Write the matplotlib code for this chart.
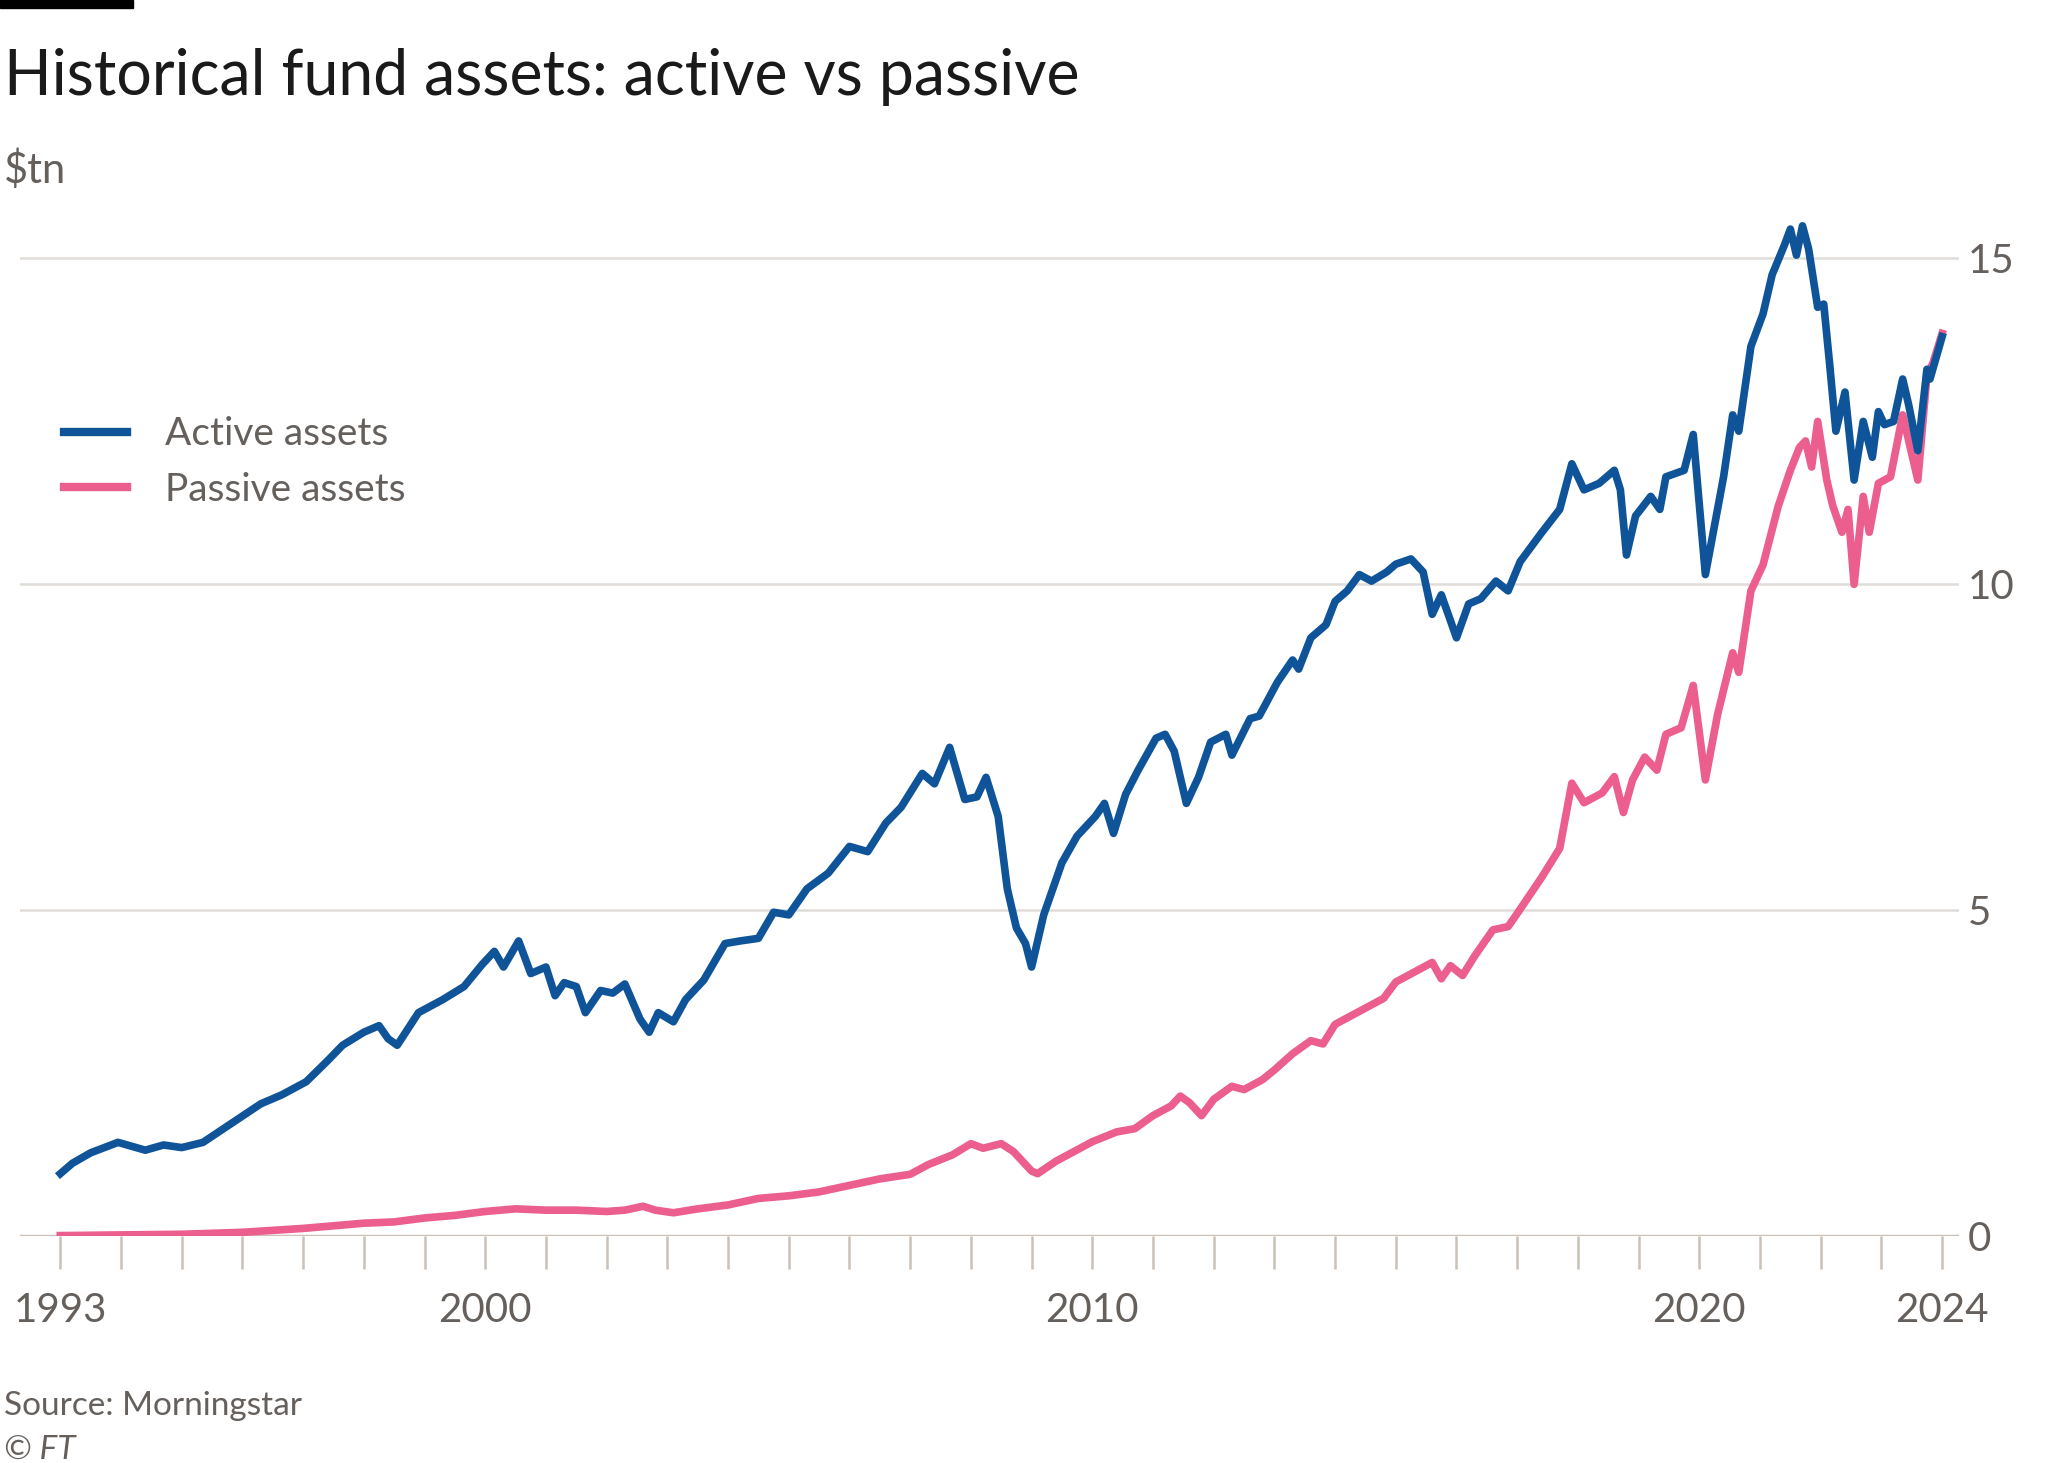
import matplotlib.pyplot as plt
from matplotlib.lines import Line2D

# Active assets ($tn)
active_years = [1993.0, 1993.2, 1993.5, 1993.95, 1994.4, 1994.7, 1995.0, 1995.35, 1995.8, 1996.3,
                1996.65, 1997.05, 1997.4, 1997.65, 1998.0, 1998.25, 1998.4, 1998.55, 1998.9, 1999.3,
                1999.65, 1999.95, 2000.15, 2000.3, 2000.55, 2000.75, 2001.0, 2001.15, 2001.3, 2001.5,
                2001.65, 2001.9, 2002.1, 2002.3, 2002.55, 2002.7, 2002.85, 2003.1, 2003.3, 2003.6,
                2003.95, 2004.2, 2004.5, 2004.75, 2005.0, 2005.3, 2005.65, 2006.0, 2006.3, 2006.6,
                2006.85, 2007.2, 2007.4, 2007.65, 2007.9, 2008.1, 2008.25, 2008.45, 2008.6, 2008.75,
                2008.9, 2009.0, 2009.2, 2009.5, 2009.75, 2010.05, 2010.2, 2010.35, 2010.55, 2010.75,
                2011.05, 2011.2, 2011.35, 2011.55, 2011.75, 2011.95, 2012.2, 2012.3, 2012.6, 2012.75,
                2013.05, 2013.3, 2013.4, 2013.6, 2013.85, 2014.0, 2014.2, 2014.4, 2014.6, 2014.85,
                2015.0, 2015.25, 2015.45, 2015.6, 2015.75, 2016.0, 2016.2, 2016.4, 2016.65, 2016.85,
                2017.05, 2017.4, 2017.7, 2017.9, 2018.1, 2018.35, 2018.6, 2018.7, 2018.8, 2018.95,
                2019.2, 2019.35, 2019.45, 2019.75, 2019.9, 2020.1, 2020.4, 2020.55, 2020.65, 2020.85,
                2021.05, 2021.2, 2021.4, 2021.5, 2021.6, 2021.7, 2021.8, 2021.95, 2022.05, 2022.15,
                2022.25, 2022.4, 2022.55, 2022.7, 2022.85, 2022.95, 2023.05, 2023.2, 2023.35, 2023.45,
                2023.6, 2023.75, 2023.8, 2024.0]
active_vals = [0.96, 1.12, 1.28, 1.44, 1.32, 1.40, 1.36, 1.44, 1.72, 2.03,
               2.17, 2.37, 2.69, 2.93, 3.13, 3.23, 3.03, 2.93, 3.43, 3.63,
               3.83, 4.17, 4.37, 4.13, 4.53, 4.03, 4.13, 3.69, 3.89, 3.83,
               3.43, 3.77, 3.73, 3.87, 3.33, 3.13, 3.43, 3.29, 3.63, 3.93,
               4.49, 4.53, 4.57, 4.97, 4.93, 5.33, 5.57, 5.98, 5.90, 6.34,
               6.58, 7.10, 6.94, 7.50, 6.70, 6.74, 7.04, 6.44, 5.33, 4.73,
               4.49, 4.13, 4.93, 5.73, 6.14, 6.44, 6.64, 6.18, 6.78, 7.14,
               7.64, 7.70, 7.44, 6.64, 7.04, 7.58, 7.70, 7.38, 7.94, 7.98,
               8.50, 8.84, 8.70, 9.18, 9.38, 9.74, 9.90, 10.15, 10.05, 10.19,
               10.31, 10.39, 10.19, 9.54, 9.84, 9.18, 9.70, 9.78, 10.05, 9.90,
               10.35, 10.79, 11.15, 11.85, 11.45, 11.55, 11.75, 11.45, 10.45, 11.05,
               11.35, 11.15, 11.65, 11.75, 12.3, 10.15, 11.65, 12.6, 12.35, 13.65,
               14.15, 14.75, 15.2, 15.45, 15.05, 15.5, 15.15, 14.25, 14.3, 13.35,
               12.35, 12.95, 11.6, 12.5, 11.95, 12.65, 12.45, 12.5, 13.15, 12.75,
               12.05, 13.3, 13.15, 13.8]

# Passive assets ($tn)
passive_years = [1993.0, 1994.0, 1995.0, 1996.0, 1997.0, 1998.0, 1998.5, 1999.0, 1999.5, 2000.0,
                 2000.5, 2001.0, 2001.5, 2002.0, 2002.3, 2002.6, 2002.8, 2003.1, 2003.5, 2004.0,
                 2004.5, 2005.0, 2005.5, 2006.0, 2006.5, 2007.0, 2007.3, 2007.7, 2008.0, 2008.2,
                 2008.5, 2008.7, 2008.9, 2009.0, 2009.1, 2009.4, 2009.7, 2010.0, 2010.4, 2010.7,
                 2011.0, 2011.3, 2011.45, 2011.6, 2011.8, 2012.0, 2012.3, 2012.5, 2012.8, 2013.0,
                 2013.3, 2013.6, 2013.8, 2014.0, 2014.4, 2014.8, 2015.0, 2015.3, 2015.6, 2015.75,
                 2015.9, 2016.1, 2016.3, 2016.6, 2016.85, 2017.0, 2017.4, 2017.7, 2017.9, 2018.1,
                 2018.4, 2018.6, 2018.75, 2018.9, 2019.1, 2019.3, 2019.45, 2019.7, 2019.9, 2020.1,
                 2020.3, 2020.55, 2020.65, 2020.85, 2021.05, 2021.3, 2021.5, 2021.65, 2021.75, 2021.85,
                 2021.95, 2022.1, 2022.2, 2022.35, 2022.45, 2022.55, 2022.7, 2022.8, 2022.95, 2023.15,
                 2023.35, 2023.5, 2023.6, 2023.75, 2023.85, 2024.0]
passive_vals = [0.01, 0.02, 0.03, 0.06, 0.12, 0.2, 0.22, 0.28, 0.32, 0.38,
                0.42, 0.40, 0.40, 0.38, 0.40, 0.46, 0.40, 0.36, 0.42, 0.48,
                0.58, 0.62, 0.68, 0.78, 0.88, 0.95, 1.1, 1.25, 1.42, 1.35,
                1.42, 1.3, 1.1, 1.0, 0.96, 1.15, 1.3, 1.45, 1.6, 1.65,
                1.85, 2.0, 2.15, 2.05, 1.85, 2.1, 2.3, 2.25, 2.4, 2.55,
                2.8, 3.0, 2.95, 3.25, 3.45, 3.65, 3.9, 4.05, 4.2, 3.95,
                4.15, 4.0, 4.3, 4.7, 4.75, 4.95, 5.5, 5.95, 6.95, 6.65,
                6.8, 7.05, 6.5, 7.0, 7.35, 7.15, 7.7, 7.8, 8.45, 7.0,
                8.0, 8.95, 8.65, 9.9, 10.3, 11.2, 11.75, 12.1, 12.2, 11.8,
                12.5, 11.6, 11.2, 10.8, 11.15, 10.0, 11.35, 10.8, 11.55, 11.65,
                12.6, 12.0, 11.6, 13.2, 13.4, 13.85]

y_ticks = [0, 5, 10, 15]
x_labels = [1993, 2000, 2010, 2020, 2024]

ACTIVE = '#0f5499'
PASSIVE = '#eb5e8d'
GREY = '#66605c'
plt.rcParams['font.family'] = 'Lato'

fig = plt.figure(figsize=(20.48, 14.63), dpi=100)
ax = fig.add_axes([0.0096, 0.155, 0.947, 0.704])

ax.plot(passive_years, passive_vals, color=PASSIVE, lw=5.5, solid_joinstyle='round')
ax.plot(active_years, active_vals, color=ACTIVE, lw=5.5, solid_joinstyle='round')

ax.set_xlim(1992.33, 2024.28)
ax.set_ylim(0, 15.8)
for s in ax.spines.values():
    s.set_visible(False)
ax.axhline(0, color='#ccc1b7', lw=2.5, zorder=1)
for v in y_ticks[1:]:
    ax.axhline(v, color='#e0dcd8', lw=1.8, zorder=0)

ax.yaxis.tick_right()
ax.set_yticks(y_ticks)
ax.tick_params(axis='y', length=0, labelsize=29, colors=GREY, pad=6)
ax.set_xticks(range(1993, 2025))
ax.set_xticklabels([str(y) if y in x_labels else '' for y in range(1993, 2025)])
ax.tick_params(axis='x', length=24, width=1.8, color='#ccc1b7', labelsize=29,
               labelcolor=GREY, pad=16)

handles = [Line2D([], [], color=ACTIVE, lw=6), Line2D([], [], color=PASSIVE, lw=6)]
ax.legend(handles, ['Active assets', 'Passive assets'], loc='upper left',
          bbox_to_anchor=(0.005, 0.83), frameon=False, fontsize=28, labelcolor=GREY,
          handlelength=1.6, handletextpad=1.0, labelspacing=0.5)

fig.patches.append(plt.Rectangle((0, 0.9945), 0.065, 0.0055, transform=fig.transFigure,
                                 color='black'))
fig.text(0.002, 0.935, 'Historical fund assets: active vs passive', fontsize=45, color='#1a1a1a')
fig.text(0.002, 0.875, '$tn', fontsize=30, color=GREY)
fig.text(0.002, 0.033, 'Source: Morningstar', fontsize=24, color=GREY)
fig.text(0.002, 0.003, '© FT', fontsize=24, color=GREY, style='italic')

fig.savefig('out.png', dpi=100, facecolor='white')
